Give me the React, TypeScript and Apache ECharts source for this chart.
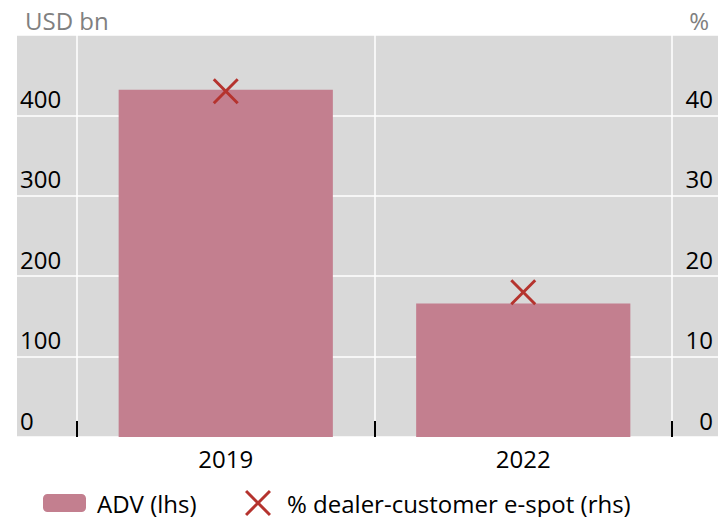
import React, { useEffect, useRef } from "react";
import * as echarts from "echarts";

const categories = ["2019", "2022"];
const advValues = [432, 166];
const espotValues = [43, 18];
const leftTicks = { min: 0, max: 500, interval: 100 };
const rightTicks = { min: 0, max: 50, interval: 10 };
const barName = "ADV (lhs)";
const crossName = "% dealer-customer e-spot (rhs)";

const FONT = "'Open Sans', 'Noto Sans', sans-serif";
const FS = 24;
const CROSS =
  "path://M0,8 L8,0 L50,42 L92,0 L100,8 L58,50 L100,92 L92,100 L50,58 L8,100 L0,92 L42,50 Z";

export default function App() {
  const ref = useRef<HTMLDivElement>(null);
  useEffect(() => {
    document.body.style.margin = "0";
    const chart = echarts.init(ref.current!, null, { renderer: "svg" });
    chart.setOption({
      animation: false,
      textStyle: { fontFamily: FONT },
      title: [
        { text: "USD bn", left: 25, top: 8, padding: 0, textStyle: { fontSize: FS, fontWeight: "normal", color: "#808080", fontFamily: FONT } },
        { text: "%", right: 9, top: 8, padding: 0, textStyle: { fontSize: FS, fontWeight: "normal", color: "#808080", fontFamily: FONT } },
      ],
      grid: [
        { left: 17, right: 0, top: 35, bottom: 80, show: true, backgroundColor: "#d9d9d9", borderWidth: 0 },
        { left: 77, right: 46, top: 35, bottom: 80, show: false },
      ],
      xAxis: [
        { type: "value", gridIndex: 0, min: 0, max: 1, show: false },
        {
          type: "category",
          gridIndex: 1,
          data: categories,
          axisLine: { show: false },
          axisTick: { show: true, inside: true, length: 16, lineStyle: { color: "#000", width: 2 } },
          splitLine: { show: true, lineStyle: { color: "#ffffff", width: 1.5 } },
          axisLabel: { color: "#000", fontSize: FS, margin: 9, fontFamily: FONT },
        },
      ],
      yAxis: [
        {
          type: "value",
          gridIndex: 0,
          position: "left",
          ...leftTicks,
          axisLine: { show: false },
          axisTick: { show: false },
          splitLine: { show: true, lineStyle: { color: "#ffffff", width: 1.5 } },
          axisLabel: {
            inside: true,
            margin: 3,
            align: "left",
            verticalAlign: "bottom",
            padding: [0, 0, 5, 0],
            color: "#000",
            fontSize: FS,
            fontFamily: FONT,
            showMaxLabel: false,
          },
        },
        {
          type: "value",
          gridIndex: 0,
          position: "right",
          ...rightTicks,
          axisLine: { show: false },
          axisTick: { show: false },
          splitLine: { show: false },
          axisLabel: {
            inside: true,
            margin: 5,
            align: "right",
            verticalAlign: "bottom",
            padding: [0, 0, 5, 0],
            color: "#000",
            fontSize: FS,
            fontFamily: FONT,
            showMaxLabel: false,
          },
        },
        { type: "value", gridIndex: 1, ...leftTicks, show: false, splitLine: { show: false } },
        { type: "value", gridIndex: 1, ...rightTicks, show: false, splitLine: { show: false } },
      ],
      legend: [
        {
          data: [barName],
          left: 43,
          top: 491,
          padding: 0,
          itemWidth: 43,
          itemHeight: 18,
          formatter: (n: string) => "{t|" + n + "}",
          textStyle: {
            fontSize: FS,
            color: "#000",
            fontFamily: FONT,
            rich: { t: { fontSize: FS, color: "#000", fontFamily: FONT, padding: [0, 0, 0, 6] } },
          },
        },
        {
          data: [{ name: crossName, icon: CROSS }],
          left: 245,
          top: 490,
          padding: 0,
          itemWidth: 26,
          itemHeight: 26,
          formatter: (n: string) => "{t|" + n + "}",
          textStyle: {
            fontSize: FS,
            color: "#000",
            fontFamily: FONT,
            rich: { t: { fontSize: FS, color: "#000", fontFamily: FONT, padding: [0, 0, 0, 11] } },
          },
        },
      ],
      series: [
        {
          name: barName,
          type: "bar",
          xAxisIndex: 1,
          yAxisIndex: 2,
          data: advValues,
          barWidth: "72%",
          itemStyle: { color: "#c37f8f" },
        },
        {
          name: crossName,
          type: "scatter",
          xAxisIndex: 1,
          yAxisIndex: 3,
          data: espotValues,
          symbol: CROSS,
          symbolSize: 26,
          itemStyle: { color: "#b5332e", opacity: 1 },
          z: 5,
        },
      ],
    });
    return () => chart.dispose();
  }, []);
  return <div ref={ref} style={{ width: 718, height: 517 }} />;
}
